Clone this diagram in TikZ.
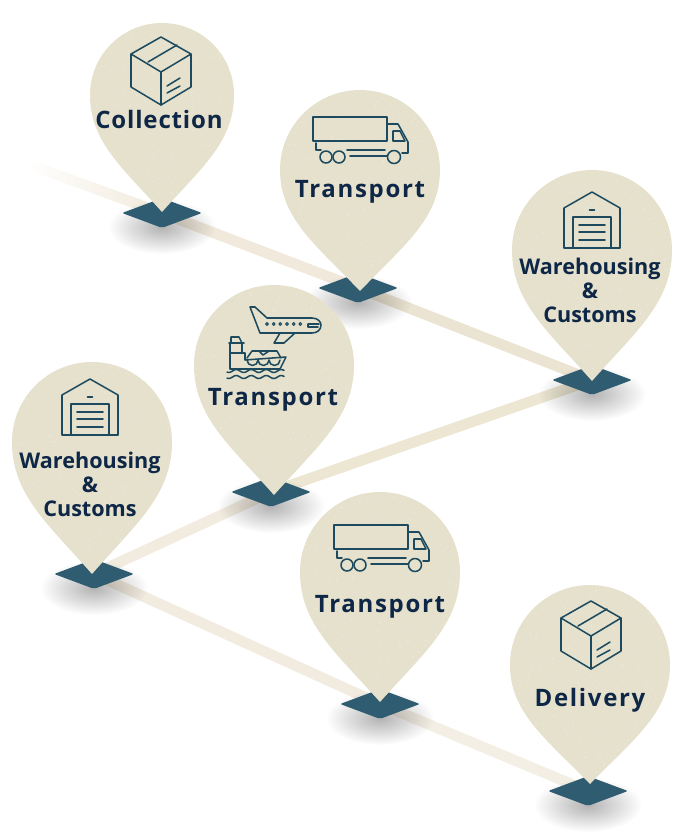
\documentclass[tikz,border=0pt]{standalone}
\usepackage{fontspec}
\setmainfont{Open Sans}
\usepackage{tikz}
\usetikzlibrary{calc,positioning,shapes.geometric,backgrounds,fadings}

\definecolor{pinbeige}{HTML}{E5E1CC}
\definecolor{stopblue}{HTML}{2F5C70}
\definecolor{iconblue}{HTML}{1D4A5E}
\definecolor{textnavy}{HTML}{0E2746}
\definecolor{road1}{HTML}{F1E9DB}
\definecolor{road2}{HTML}{ECE4D2}
\definecolor{road3}{HTML}{ECE6D2}
\definecolor{road4}{HTML}{F2EBDF}
\definecolor{road5}{HTML}{F4EFE4}
\tikzfading[name=blob, inner color=transparent!70, outer color=transparent!100]
\tikzfading[name=fadein, left color=transparent!100, middle color=transparent!70, right color=transparent!0]

\tikzset{
	stop/.style={shape=diamond, fill=stopblue, aspect=2.67, minimum width=60pt, minimum height=22.5pt, inner sep=0pt, rounded corners=1.5pt},
	road/.style={line width=8pt},
	blob/.style={fill=black, path fading=blob},
	label/.style={text=textnavy, anchor=base, font=\fontsize{18pt}{18pt}\bfseries\selectfont\addfontfeature{LetterSpace=3.5}},
	label wide/.style={text=textnavy, anchor=base, font=\fontsize{18pt}{18pt}\bfseries\selectfont\addfontfeature{LetterSpace=7}},
	label small/.style={text=textnavy, align=center, font=\fontsize{16.2pt}{18pt}\bfseries\selectfont},
	icon/.style={draw=iconblue, line width=1.15pt, line join=round, line cap=round},
	pics/parcel/.style={code={
		\draw[icon] (0,-34) -- (30,-17) -- (30,16) -- (0,34) -- (-30,16) -- (-30,-17) -- cycle;
		\draw[icon] (-30,-17) -- (0,1) -- (30,-17) (0,1) -- (0,34);
		\draw[icon] (-13,-9) -- (16,-26);
		\draw[icon] (6,15) -- (19,7) (6,22) -- (19,15);
	}},
	pics/truck/.style={code={
		\draw[icon] (-47,-22) -- (27,-22) -- (27,2) -- (-47,2) -- cycle;
		\draw[icon] (-44,4) -- (-44,11) -- (-39,11);
		\draw (-34,18) circle (6) [icon];
		\draw (-21,18) circle (6) [icon];
		\draw (34,18) circle (6.5) [icon];
		\draw[icon] (-13,11) -- (25,11) (-10,17) -- (27,17);
		\draw[icon] (27,-15) -- (38,-15) -- (48,3) -- (48,14) -- (42,14);
		\draw[icon] (33,-8) -- (40,-8) -- (45,2) -- (33,2) -- cycle;
	}},
	pics/warehouse/.style={code={
		\draw[icon] (-28,28) -- (-28,-12) -- (0,-28) -- (28,-12) -- (28,28) -- cycle;
		\draw[icon] (-19,28) -- (-19,-3) -- (19,-3) -- (19,28);
		\draw[icon] (-13,5) -- (13,5) (-13,12) -- (13,12) (-13,20) -- (13,20);
		\draw[icon] (-2.5,-10) -- (2.5,-10);
	}},
}

\newcommand{\pinshape}{(-\rr,0) .. controls (-\rr,-\kk) and (-\kk,-\rr) .. (0,-\rr)
	.. controls (\kk,-\rr) and (\rr,-\kk) .. (\rr,0)
	.. controls (\rr,0.4*\hh) and (0.55*\rr,0.62*\hh) .. (0,\hh)
	.. controls (-0.55*\rr,0.62*\hh) and (-\rr,0.4*\hh) .. (-\rr,0) -- cycle}
\newcommand{\drawpin}[4]{% x, y of the circle, radius, y of the tip
	\pgfmathsetmacro{\rr}{#3}
	\pgfmathsetmacro{\kk}{0.5523*#3}
	\pgfmathsetmacro{\hh}{#4-#2}
	\begin{scope}[shift={(#1,#2)}]
		\fill[pinbeige] \pinshape;
		\begin{scope}
			\clip \pinshape;
			\foreach \i in {1,...,450}
				\fill[white, opacity=0.35] ({\rr*rand},{-\rr+rnd*(\rr+\hh)}) circle (0.6);
		\end{scope}
	\end{scope}
}

\begin{document}
\begin{tikzpicture}[x=0.75pt,y=-0.75pt]
	\useasboundingbox (0,0) rectangle (674,839);
	\pgfmathsetseed{42}

	\node(1) [stop] at (162,213) {};
	\node(2) [stop] at (358,288) {};
	\node(3) [stop] at (592,380) {};
	\node(4) [stop] at (271,492) {};
	\node(5) [stop] at (94,574) {};
	\node(6) [stop] at (380,704) {};
	\node(7) [stop] at (588,791) {};
	\coordinate (start) at (30,165);

	\begin{pgfonlayer}{background}
		\draw[road, color=road1, path fading=fadein] (start) -- (1.center);
		\draw[road, color=road1] (1.center) -- (2.center);
		\draw[road, color=road2] (2.center) -- (3.center);
		\draw[road, color=road3] (3.center) -- (4.center);
		\draw[road, color=road4] (4.center) -- (5.center);
		\draw[road, color=road4] (5.center) -- (6.center);
		\draw[road, color=road5] (6.center) -- (7.center);
		\foreach \s in {1,...,7}
			\fill[blob] ($(\s.center)+(0,14)$) ellipse (54 and 27);
	\end{pgfonlayer}

	\drawpin{162}{95}{72}{212}
	\drawpin{360}{170}{80}{291}
	\drawpin{592}{250}{80}{381}
	\drawpin{274}{365}{80}{495}
	\drawpin{92}{442}{80}{574}
	\drawpin{380}{572}{80}{702}
	\drawpin{590}{665}{80}{784}

	\pic at (161,71) {parcel};
	\pic at (360,139) {truck};
	\pic at (592,220) {warehouse};
	\pic at (90,407) {warehouse};
	\pic at (381,547) {truck};
	\pic at (591,635) {parcel};

	% plane and ship
	\draw[icon] (250,307) -- (255,307) -- (267,318) -- (312,318) .. controls (318,318) and (321,322) .. (321,325)
		.. controls (321,330) and (317,333) .. (312,333) -- (260,333) -- cycle;
	\draw[icon] (280,333) -- (274,343) -- (284,343) -- (295,333);
	\foreach \w in {267,273.7,280.3,287,293.7,300.3}
		\draw[icon, line width=0.8pt] (\w,324) circle (1.4);
	\draw[icon] (308,324) -- (319,324) (308,324) -- (308,327) -- (318,327);
	\draw[icon] (230,343) -- (230,369) -- (280,369) -- (286,357) -- (245,360) -- (245,353) -- (230,353);
	\draw[icon] (231,343) -- (231,337) -- (239,337) -- (242,343) -- (242,353) (229,343) -- (244,343);
	\draw[icon] (247,360) arc (180:0:5.5) arc (180:0:5.5) arc (180:0:5.5);
	\draw[icon] (252,351) -- (277,351) -- (281,358) (252,351) -- (247,358) (259,351) -- (263,355) -- (269,351);
	\draw[icon] plot[domain=227:284,samples=50,smooth] (\x,{371+1.5*sin(\x*24)});
	\draw[icon] plot[domain=227:284,samples=50,smooth] (\x,{377+1.5*sin(\x*24)});

	\node(t1) [label] at (159,128) {Collection};
	\node(t2) [label wide] at (360,197) {Transport};
	\node(t3) [label small] at (590,290) {Warehousing\\\&\\Customs};
	\node(t4) [label wide] at (273,405) {Transport};
	\node(t5) [label small] at (90,484) {Warehousing\\\&\\Customs};
	\node(t6) [label wide] at (380,612) {Transport};
	\node(t7) [label wide] at (590,706) {Delivery};
\end{tikzpicture}
\end{document}
